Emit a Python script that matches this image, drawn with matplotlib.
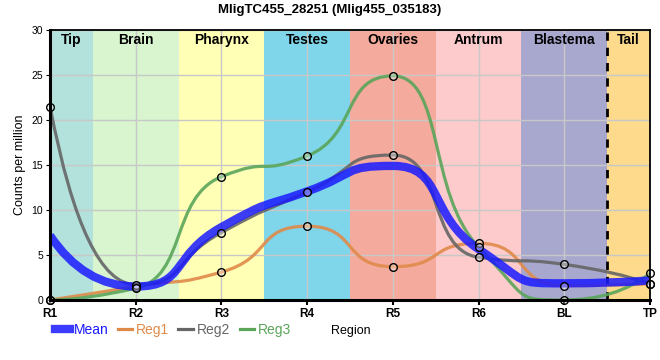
import numpy as np
import matplotlib
matplotlib.use("Agg")
import matplotlib.pyplot as plt
from matplotlib.lines import Line2D
from matplotlib.path import Path
from matplotlib.patches import PathPatch

plt.rcParams['font.family'] = ['Liberation Sans', 'DejaVu Sans']

title = "MligTC455_28251 (Mlig455_035183)"
regions = ["R1", "R2", "R3", "R4", "R5", "R6", "BL", "TP"]
reg1 = [0.0, 1.5, 3.1, 8.2, 3.7, 6.3, 1.6, 1.8]
reg2 = [21.5, 1.7, 7.5, 12.0, 16.1, 4.75, 3.96, 1.8]
reg3 = [0.0, 1.3, 13.7, 16.0, 24.9, 5.9, 0.0, 2.95]
band_names = ["Tip", "Brain", "Pharynx", "Testes", "Ovaries", "Antrum", "Blastema", "Tail"]
band_colors = ["#b3e2dd", "#d8f5d0", "#ffffb5", "#7fd5ea", "#f4aa9c", "#fdcbcb", "#a8a8ce", "#fdda8c"]
series_colors = {"Mean": "#1a1aff", "Reg1": "#e08a4a", "Reg2": "#666666", "Reg3": "#5aa55a"}


def spline_path(x, y, smoothing=0.667):
    """Smooth Bezier path through the points (control points clamped to avoid false extremes)."""
    n = len(x)
    denom = smoothing + 1
    lc = [None] * n
    rc = [None] * n
    for i in range(1, n - 1):
        px, py = x[i], y[i]
        lx, ly = x[i - 1], y[i - 1]
        nx, ny = x[i + 1], y[i + 1]
        lcx = (smoothing * px + lx) / denom
        lcy = (smoothing * py + ly) / denom
        rcx = (smoothing * px + nx) / denom
        rcy = (smoothing * py + ny) / denom
        corr = (rcy - lcy) * (rcx - px) / (rcx - lcx) + py - rcy
        lcy += corr
        rcy += corr
        if lcy > ly and lcy > py:
            lcy = max(ly, py); rcy = 2 * py - lcy
        elif lcy < ly and lcy < py:
            lcy = min(ly, py); rcy = 2 * py - lcy
        if rcy > ny and rcy > py:
            rcy = max(ny, py); lcy = 2 * py - rcy
        elif rcy < ny and rcy < py:
            rcy = min(ny, py); lcy = 2 * py - rcy
        lc[i] = (lcx, lcy)
        rc[i] = (rcx, rcy)
    verts = [(x[0], y[0])]
    codes = [Path.MOVETO]
    for i in range(1, n):
        if i == 1:
            verts += [lc[1], (x[1], y[1])]
            codes += [Path.CURVE3] * 2
        elif i == n - 1:
            verts += [rc[n - 2], (x[i], y[i])]
            codes += [Path.CURVE3] * 2
        else:
            verts += [rc[i - 1], lc[i], (x[i], y[i])]
            codes += [Path.CURVE4] * 3
    return Path(verts, codes)


fig = plt.figure(figsize=(6.6, 3.6), dpi=100)
ax = fig.add_axes([50 / 660, 60 / 360, 600 / 660, 270 / 360])
xpos = np.arange(len(regions), dtype=float)
ax.set_xlim(0, len(regions) - 1)
ax.set_ylim(0, 30)

edges = [0] + [i + 0.5 for i in range(len(regions) - 1)] + [len(regions) - 1]
for i, (nm, c) in enumerate(zip(band_names, band_colors)):
    ax.axvspan(edges[i], edges[i + 1], color=c, lw=0, zorder=0)
    ax.text((edges[i] + edges[i + 1]) / 2, 28.85, nm, ha='center', va='center',
            fontsize=10, fontweight='bold', zorder=5)

ax.set_yticks([0, 5, 10, 15, 20, 25, 30])
ax.set_xticks(xpos)
ax.set_xticklabels(regions, fontsize=8.5, fontweight='bold')
ax.tick_params(axis='y', labelsize=7.5, length=3, pad=2)
ax.tick_params(axis='x', length=3.5, width=1.5, pad=2)
ax.grid(True, color='#c8c8c8', lw=1, zorder=1)
ax.set_axisbelow(False)
for ln in ax.get_xgridlines() + ax.get_ygridlines():
    ln.set_zorder(1)

ax.axvline(len(regions) - 1.5, color='black', ls=(0, (3, 2.5)), lw=2, zorder=3)

data = {"Reg1": reg1, "Reg2": reg2, "Reg3": reg3}
for name, vals in data.items():
    ax.add_patch(PathPatch(spline_path(xpos, vals), facecolor='none', edgecolor=series_colors[name],
                           lw=2.3, alpha=0.9, zorder=4))
mean = np.mean([reg1, reg2, reg3], axis=0)
ax.add_patch(PathPatch(spline_path(xpos, mean), facecolor='none', edgecolor=series_colors["Mean"],
                       lw=6, alpha=0.85, zorder=6, capstyle='butt'))
for name, vals in data.items():
    ax.plot(xpos, vals, ls='none', marker='o', ms=5.5, mfc=(1, 1, 1, 0.35), mec='black',
            mew=1, zorder=7, clip_on=False)

for s in ['left', 'bottom']:
    ax.spines[s].set_linewidth(2.2)
for s in ['top', 'right']:
    ax.spines[s].set_linewidth(1.3)
for s in ax.spines.values():
    s.set_zorder(8)

ax.set_ylabel("Counts per million", fontsize=9, labelpad=4)
fig.text(0.5, 1 - 10 / 360, title, ha='center', va='center', fontsize=9.5, fontweight='bold')
fig.text(351 / 660, 1 - 331 / 360, "Region", ha='center', va='center', fontsize=9)

handles = [Line2D([], [], color=series_colors["Mean"], lw=6, alpha=0.85),
           Line2D([], [], color=series_colors["Reg1"], lw=2.3),
           Line2D([], [], color=series_colors["Reg2"], lw=2.3),
           Line2D([], [], color=series_colors["Reg3"], lw=2.3)]
fig.legend(handles, ["Mean", "Reg1", "Reg2", "Reg3"], loc='center left',
           bbox_to_anchor=(55 / 660, 1 - 330 / 360), ncol=4, frameon=False,
           fontsize=10, labelcolor='linecolor', handlelength=1.05, handletextpad=0.3,
           columnspacing=0.65, borderpad=0, borderaxespad=0)

fig.savefig("out.png", dpi=100)
